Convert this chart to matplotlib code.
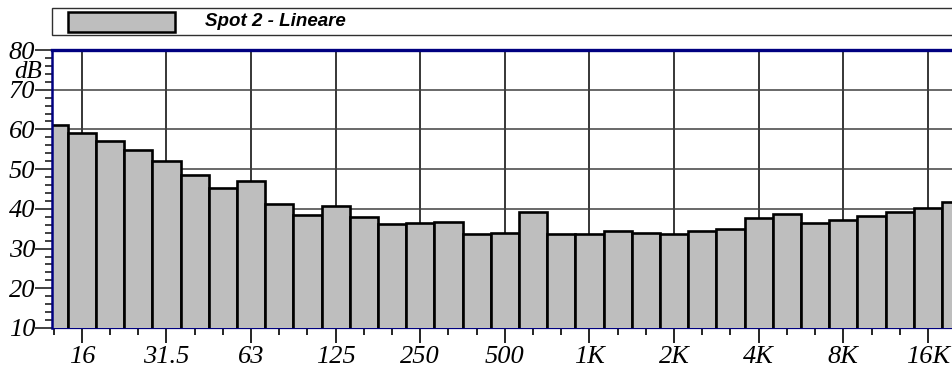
import matplotlib
matplotlib.use('Agg')
import matplotlib.pyplot as plt
from matplotlib.patches import Rectangle
from matplotlib.ticker import FixedLocator, FixedFormatter, MultipleLocator

# third-octave bands, 12.5 Hz .. 20 kHz
bands = ['12.5', '16', '20', '25', '31.5', '40', '50', '63', '80', '100',
         '125', '160', '200', '250', '315', '400', '500', '630', '800', '1K',
         '1.25K', '1.6K', '2K', '2.5K', '3.15K', '4K', '5K', '6.3K', '8K',
         '10K', '12.5K', '16K', '20K']
levels = [61.2, 59.2, 57.1, 54.9, 52.0, 48.5, 45.3, 46.9, 41.2, 38.5,
          40.6, 37.9, 36.2, 36.4, 36.8, 33.6, 33.8, 39.1, 33.7, 33.7,
          34.5, 33.8, 33.7, 34.4, 34.9, 37.7, 38.7, 36.4, 37.1, 38.1,
          39.3, 40.2, 41.7]
octave_labels = ['16', '31.5', '63', '125', '250', '500', '1K', '2K', '4K', '8K', '16K']
series_name = 'Spot 2 - Lineare'

plt.rcParams['font.family'] = ['Liberation Serif', 'DejaVu Serif']
plt.rcParams['font.style'] = 'italic'
plt.rcParams['font.size'] = 19

W, H = 953, 371
fig = plt.figure(figsize=(W / 100, H / 100), dpi=100)

def fx(px):
    return px / W

def fy(py):
    return 1 - py / H

ax = fig.add_axes([fx(52), fy(328), 1 - fx(52), fy(50) - fy(328)])

x = list(range(len(bands)))
ax.bar(x, levels, width=1.0, color='#bebebe', edgecolor='black', linewidth=1.9, zorder=3)

ax.set_ylim(10, 80)
ax.set_xlim(-0.06, 31.89)

# octave positions carry labels and grid, the rest get short ticks
major_pos = [bands.index(b) for b in octave_labels]
minor_pos = [i for i in x if i not in major_pos]
ax.xaxis.set_major_locator(FixedLocator(major_pos))
ax.xaxis.set_major_formatter(FixedFormatter(octave_labels))
ax.xaxis.set_minor_locator(FixedLocator(minor_pos))

ax.yaxis.set_major_locator(MultipleLocator(10))
ax.yaxis.set_minor_locator(MultipleLocator(2))

ax.tick_params(axis='x', which='major', length=11, width=1.2, color='black', pad=2,
               labelsize=19)
ax.tick_params(axis='x', which='minor', length=5, width=1.2, color='black')
ax.tick_params(axis='y', which='major', length=12, width=1.2, color='#202020', pad=0,
               labelsize=19)
ax.tick_params(axis='y', which='minor', length=5, width=1.2, color='#202020')

ax.grid(True, axis='x', which='major', color='black', linewidth=1.1, zorder=1)
ax.grid(True, axis='y', which='major', color='#404040', linewidth=1.1, zorder=1)
ax.set_axisbelow(True)

ax.spines['right'].set_visible(False)
ax.spines['top'].set_color('#000080')
ax.spines['top'].set_linewidth(2.4)
ax.spines['left'].set_color('#000080')
ax.spines['left'].set_linewidth(1.8)
ax.spines['bottom'].set_color('#000080')
ax.spines['bottom'].set_linewidth(0.9)
ax.spines['top'].set_zorder(5)
ax.spines['left'].set_zorder(5)

# unit label squeezed between the 80 and 70 ticks
fig.text(fx(42), fy(72), 'dB', ha='right', va='center', fontsize=18)

# legend strip above the plot
box = Rectangle((fx(52), fy(35)), 1 - fx(52) + 0.01, fy(8) - fy(35),
                transform=fig.transFigure, facecolor='white',
                edgecolor='#303030', linewidth=1.0)
fig.add_artist(box)
swatch = Rectangle((fx(68), fy(32)), fx(175) - fx(68), fy(12) - fy(32),
                   transform=fig.transFigure, facecolor='#bebebe',
                   edgecolor='black', linewidth=1.8)
fig.add_artist(swatch)
fig.text(fx(205), fy(22), series_name, ha='left', va='center',
         family='Liberation Sans', weight='bold', style='italic', fontsize=13.5)

fig.savefig('out.png', dpi=100)
